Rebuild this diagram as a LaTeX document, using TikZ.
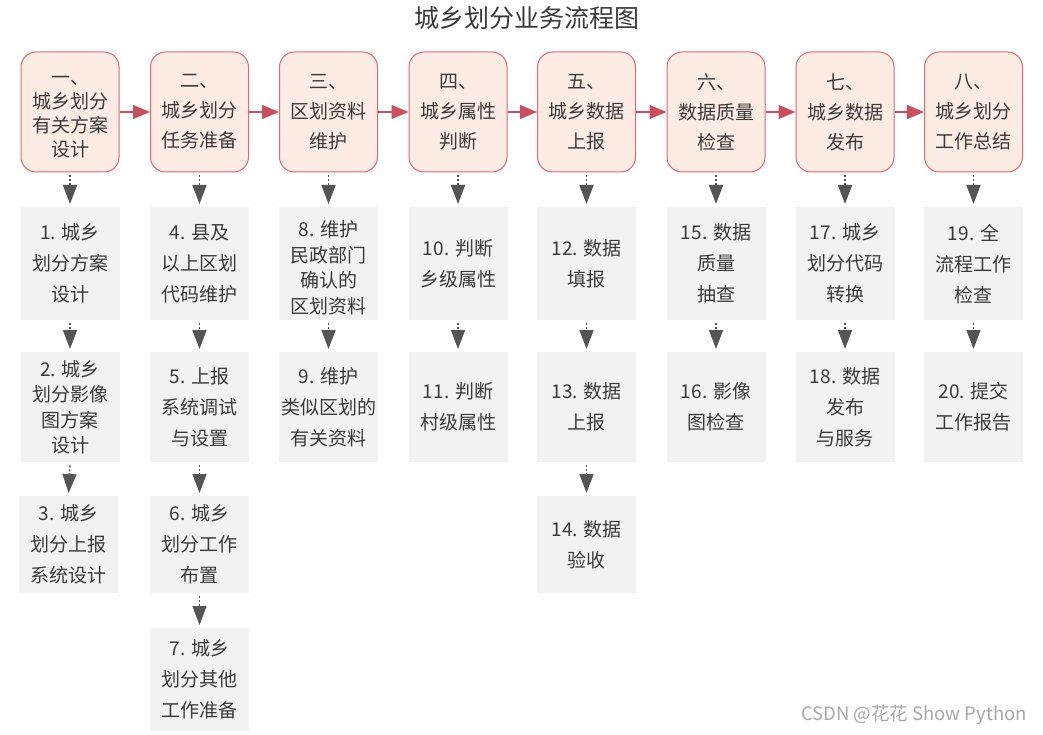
\documentclass[tikz,border=0pt]{standalone}
\usepackage{fontspec}
\newfontfamily\cjk{Noto Sans CJK SC}
\usetikzlibrary{arrows.meta}
\definecolor{phfill}{HTML}{FDECE3}
\definecolor{phdraw}{HTML}{D86A75}
\definecolor{phar}{HTML}{C94F60}
\definecolor{stfill}{HTML}{F2F2F2}
\definecolor{txt}{HTML}{3A3A3A}
\definecolor{agray}{HTML}{555555}
\definecolor{wm}{HTML}{A8A8A8}
\tikzset{
  phase/.style={draw=phdraw, fill=phfill, line width=1pt, rounded corners=15pt,
    minimum width=98pt, minimum height=120pt, inner sep=0pt, align=center,
    text=txt, font={\cjk\fontsize{19}{30}\selectfont}},
  phasetext/.style={inner sep=0pt, align=center, text=txt,
    font={\cjk\fontsize{19}{24}\selectfont}},
  stepbox/.style={fill=stfill, minimum width=99pt, inner sep=0pt, align=center,
    anchor=north, text=txt, font={\cjk\fontsize{19}{31}\selectfont}},
  stepfour/.style={stepbox, font={\cjk\fontsize{19}{25.5}\selectfont}},
  rowa/.style={minimum height=113pt},
  rowb/.style={minimum height=110pt},
  rowc/.style={minimum height=97pt},
  rowd/.style={minimum height=103pt},
  parr/.style={draw=phar, line width=1.3pt, -{Triangle[width=14pt,length=17pt,fill=phar]}},
  darr/.style={draw=agray, line width=1.6pt, dash pattern=on 2pt off 2pt,
    -{Triangle[width=14pt,length=19pt,fill=agray]}, shorten <=3pt, shorten >=3pt},
}
\begin{document}
\begin{tikzpicture}[x=1pt,y=-1pt]
\useasboundingbox (0,0) rectangle (1043,735);
\fill[white] (0,0) rectangle (1043,735);
\node[text=txt, font={\cjk\fontsize{25}{30}\selectfont}] (title) at (527,18) {城乡划分业务流程图};
% phases
\node[phase] (p1) at (70,112) {};
\node[phasetext] (p1t) at (70,117) {一、\\城乡划分\\有关方案\\设计};
\node[phase] (p2) at (199.5,112) {二、\\城乡划分\\任务准备};
\node[phase] (p3) at (328.5,112) {三、\\区划资料\\维护};
\node[phase] (p4) at (458,112) {四、\\城乡属性\\判断};
\node[phase] (p5) at (586.5,112) {五、\\城乡数据\\上报};
\node[phase] (p6) at (716,112) {六、\\数据质量\\检查};
\node[phase] (p7) at (845,112) {七、\\城乡数据\\发布};
\node[phase] (p8) at (973.5,112) {八、\\城乡划分\\工作总结};
\foreach \a/\b in {p1/p2,p2/p3,p3/p4,p4/p5,p5/p6,p6/p7,p7/p8}
  \draw[parr] (\a.east) -- (\b.west);
% steps
\node[stepbox,rowa] (s1) at (70,207) {1. 城乡\\划分方案\\设计};
\node[stepfour,rowb] (s2) at (70,352) {2. 城乡\\划分影像\\图方案\\设计};
\node[stepbox,rowc] (s3) at (68.5,496) {3. 城乡\\划分上报\\系统设计};
\node[stepbox,rowa] (s4) at (199.5,207) {4. 县及\\以上区划\\代码维护};
\node[stepbox,rowb] (s5) at (199.5,352) {5. 上报\\系统调试\\与设置};
\node[stepbox,rowc] (s6) at (199.5,496) {6. 城乡\\划分工作\\布置};
\node[stepbox,rowd] (s7) at (199.5,628) {7. 城乡\\划分其他\\工作准备};
\node[stepfour,rowa] (s8) at (328.5,207) {\rule{0pt}{24pt}8. 维护\\民政部门\\确认的\\区划资料};
\node[stepbox,rowb] (s9) at (328.5,352) {9. 维护\\类似区划的\\有关资料};
\node[stepbox,rowa] (s10) at (458,207) {10. 判断\\乡级属性};
\node[stepbox,rowb] (s11) at (458,352) {11. 判断\\村级属性};
\node[stepbox,rowa] (s12) at (586.5,207) {12. 数据\\填报};
\node[stepbox,rowb] (s13) at (586.5,352) {13. 数据\\上报};
\node[stepbox,rowc] (s14) at (586.5,496) {14. 数据\\验收};
\node[stepbox,rowa] (s15) at (716,207) {15. 数据\\质量\\抽查};
\node[stepbox,rowb] (s16) at (716,352) {16. 影像\\图检查};
\node[stepbox,rowa] (s17) at (845,207) {17. 城乡\\划分代码\\转换};
\node[stepbox,rowb] (s18) at (845,352) {18. 数据\\发布\\与服务};
\node[stepbox,rowa] (s19) at (973.5,207) {19. 全\\流程工作\\检查};
\node[stepbox,rowb] (s20) at (973.5,352) {20. 提交\\工作报告};
\foreach \a/\b in {p1/s1,s1/s2,s2/s3,p2/s4,s4/s5,s5/s6,s6/s7,p3/s8,s8/s9,p4/s10,s10/s11,p5/s12,s12/s13,s13/s14,p6/s15,s15/s16,p7/s17,s17/s18,p8/s19,s19/s20}
  \draw[darr] (\a.south) -- (\b.north);
\node[text=wm, font={\cjk\fontsize{18.5}{22}\selectfont}] (wmark) at (914,715) {CSDN @花花 Show Python};
\end{tikzpicture}
\end{document}
